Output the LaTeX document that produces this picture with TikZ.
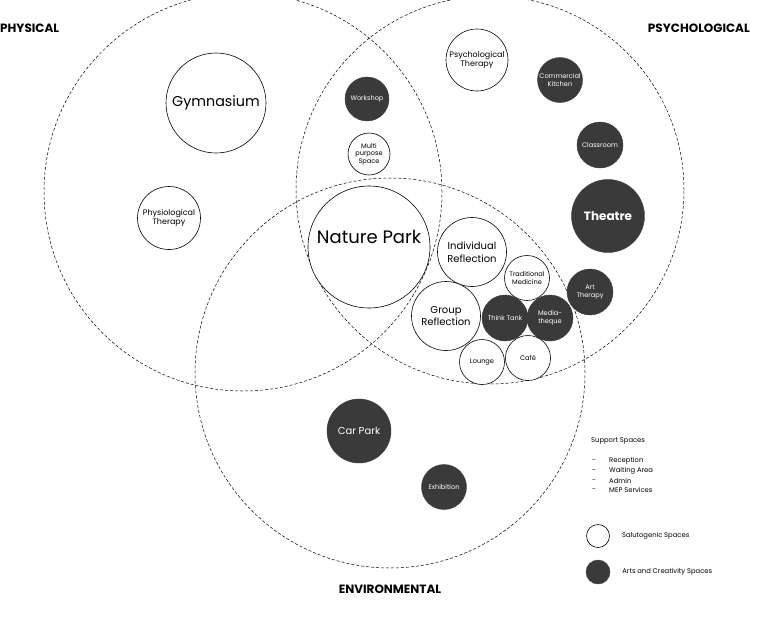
\documentclass[tikz,border=0pt]{standalone}
\usepackage{fontspec}
\setmainfont{Poppins}
\usetikzlibrary{positioning}
\definecolor{Charcoal}{RGB}{58,58,58}

\begin{document}
\begin{tikzpicture}[
    x=1pt, y=-1pt,
    zone/.style={
        draw=black, dash pattern=on 3pt off 2pt, line width=0.5pt
    },
    salu/.style={
        circle, draw=black, line width=0.6pt, fill=white,
        align=center, inner sep=0pt, text=black
    },
    arts/.style={
        circle, draw=Charcoal, fill=Charcoal,
        align=center, inner sep=0pt, text=white
    },
    tiny/.style={font=\fontsize{6.6}{7.6}\selectfont},
    small/.style={font=\fontsize{8}{9.5}\selectfont},
    mid/.style={font=\fontsize{10}{12.5}\selectfont},
    zonelabel/.style={font=\fontsize{12}{13}\selectfont\bfseries, inner sep=0pt},
    legend/.style={anchor=west, inner sep=0pt, font=\fontsize{6.8}{7.5}\selectfont},
]

\useasboundingbox (0,0) rectangle (765,625);

%% Zones
\coordinate (phys) at (243,192);
\coordinate (psych) at (490,190);
\coordinate (env) at (390,373);
\draw[zone] (phys) circle[radius=199pt];
\draw[zone] (psych) circle[radius=194pt];
\draw[zone] (env) circle[radius=195pt];

\node[zonelabel, anchor=west] (lphys) at (0,28) {PHYSICAL};
\node[zonelabel, anchor=east] (lpsych) at (750,28) {PSYCHOLOGICAL};
\node[zonelabel] (lenv) at (390,589) {ENVIRONMENTAL};

%% Physical
\node[salu, minimum size=100pt, font=\fontsize{14.3}{16}\selectfont] (gym) at (216,103)
    {Gymnasium};
\node[salu, small, minimum size=63pt] (physio) at (169,218)
    {Physiological\\Therapy};
\node[arts, tiny, minimum size=44pt] (work) at (367,99)
    {Workshop};
\node[salu, tiny, minimum size=42pt] (multi) at (369,154)
    {Multi\\purpose\\Space};

%% Centre
\node[salu, minimum size=122pt, font=\fontsize{18}{20}\selectfont] (park) at (369,247)
    {\raisebox{20pt}{Nature Park}};

%% Psychological
\node[salu, small, minimum size=62pt] (psyth) at (477,60)
    {Psychological\\Therapy};
\node[arts, tiny, minimum size=45pt] (kitchen) at (560,80)
    {Commercial\\Kitchen};
\node[arts, tiny, minimum size=46pt] (class) at (600,145)
    {Classroom};
\node[arts, minimum size=73pt, font=\fontsize{12}{13}\selectfont\bfseries] (theatre) at (608,216)
    {Theatre};
\node[arts, tiny, minimum size=46pt] (art) at (590,292)
    {Art\\Therapy};

%% Psychological / environmental
\node[salu, mid, minimum size=69pt] (indiv) at (472,252)
    {Individual\\Reflection};
\node[salu, tiny, minimum size=45pt] (trad) at (527,278)
    {Traditional\\Medicine};
\node[salu, mid, minimum size=69pt] (group) at (446,316)
    {Group\\Reflection};
\node[arts, tiny, minimum size=46pt] (think) at (505,318)
    {Think Tank};
\node[arts, tiny, minimum size=46pt] (media) at (550,318)
    {Media-\\theque};
\node[salu, tiny, minimum size=45pt] (lounge) at (482,362)
    {Lounge};
\node[salu, tiny, minimum size=45pt] (cafe) at (528,358)
    {Café};

%% Environmental
\node[arts, minimum size=64pt, font=\fontsize{10}{11}\selectfont] (car) at (359,431)
    {Car Park};
\node[arts, tiny, minimum size=45pt] (exhib) at (444,487)
    {Exhibition};

%% Legend
\node[legend] (support) at (591,441) {Support Spaces};
\node[legend] (d1) at (592,461) {-};
\node[legend] (d2) at (592,471) {-};
\node[legend] (d3) at (592,481) {-};
\node[legend] (d4) at (592,490) {-};
\node[legend] (reception) at (609,461) {Reception};
\node[legend] (waiting) at (609,471) {Waiting Area};
\node[legend] (admin) at (609,481) {Admin};
\node[legend] (mep) at (609,490) {MEP Services};

\node[salu, minimum size=23pt] (keysalu) at (598,536) {};
\node[legend, right=12pt of keysalu] (lsalu) {Salutogenic Spaces};
\node[arts, minimum size=24pt] (keyarts) at (598,572) {};
\node[legend, right=12pt of keyarts] (larts) {Arts and Creativity Spaces};

\end{tikzpicture}
\end{document}
